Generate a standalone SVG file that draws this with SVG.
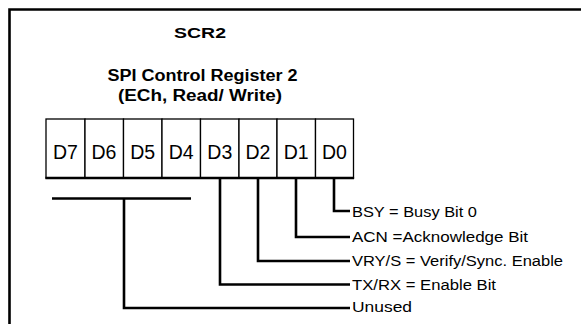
<svg xmlns="http://www.w3.org/2000/svg" width="581" height="324" viewBox="0 0 581 324">
<style>
.frame{fill:none;stroke:#000;stroke-width:2.6}
.cell{fill:#fff;stroke:#000;stroke-width:1.3}
.bot{stroke:#000;stroke-width:2.6;fill:none}
.conn{fill:none;stroke:#000;stroke-width:2.6;stroke-linejoin:miter;stroke-linecap:butt}
.title{font-family:"Liberation Sans",Arial,sans-serif;font-weight:bold;fill:#000;text-anchor:middle}
.bit{font-family:"Liberation Sans",Arial,sans-serif;font-size:19.5px;fill:#000;text-anchor:middle}
.lbl{font-family:"Liberation Sans",Arial,sans-serif;font-size:15.5px;fill:#000}
</style>
<rect width="581" height="324" fill="#fff"/>
<g id="frame">
<path class="frame" d="M9.5,324 V9.5 H581"/>
</g>
<g id="titles">
<text class="title" x="200" y="37.5" font-size="15.5" textLength="52" lengthAdjust="spacingAndGlyphs">SCR2</text>
<text class="title" x="202.5" y="80.5" font-size="16" textLength="190" lengthAdjust="spacingAndGlyphs">SPI Control Register 2</text>
<text class="title" x="200" y="100.5" font-size="16" textLength="164" lengthAdjust="spacingAndGlyphs">(ECh, Read/ Write)</text>
</g>
<g id="register">
<rect class="cell" x="46" y="119" width="39" height="59"/>
<rect class="cell" x="85" y="119" width="38.5" height="59"/>
<rect class="cell" x="123.5" y="119" width="38.5" height="59"/>
<rect class="cell" x="162" y="119" width="38.5" height="59"/>
<rect class="cell" x="200.5" y="119" width="38.5" height="59"/>
<rect class="cell" x="239" y="119" width="38" height="59"/>
<rect class="cell" x="277" y="119" width="38.5" height="59"/>
<rect class="cell" x="315.5" y="119" width="38" height="59"/>
<line class="bot" x1="45.4" y1="178" x2="354.1" y2="178"/>
<text class="bit" x="65.5" y="158.5">D7</text>
<text class="bit" x="104" y="158.5">D6</text>
<text class="bit" x="142.7" y="158.5">D5</text>
<text class="bit" x="181.2" y="158.5">D4</text>
<text class="bit" x="219.8" y="158.5">D3</text>
<text class="bit" x="258" y="158.5">D2</text>
<text class="bit" x="296.2" y="158.5">D1</text>
<text class="bit" x="334.5" y="158.5">D0</text>
</g>
<g id="connectors">
<path class="conn" d="M334,178 V211 H350"/>
<path class="conn" d="M296,178 V237 H350"/>
<path class="conn" d="M258,178 V261 H350"/>
<path class="conn" d="M220,178 V284.5 H350"/>
<path class="conn" d="M52,198.5 H191"/>
<path class="conn" d="M124,198.5 V308 H350"/>
</g>
<g id="labels">
<text class="lbl" x="352" y="216.5" textLength="125" lengthAdjust="spacingAndGlyphs">BSY = Busy Bit 0</text>
<text class="lbl" x="352" y="241.5" textLength="176" lengthAdjust="spacingAndGlyphs">ACN =Acknowledge Bit</text>
<text class="lbl" x="352" y="266" textLength="211" lengthAdjust="spacingAndGlyphs">VRY/S = Verify/Sync. Enable</text>
<text class="lbl" x="352" y="289.5" textLength="144" lengthAdjust="spacingAndGlyphs">TX/RX = Enable Bit</text>
<text class="lbl" x="352" y="312" textLength="60" lengthAdjust="spacingAndGlyphs">Unused</text>
</g>
</svg>
